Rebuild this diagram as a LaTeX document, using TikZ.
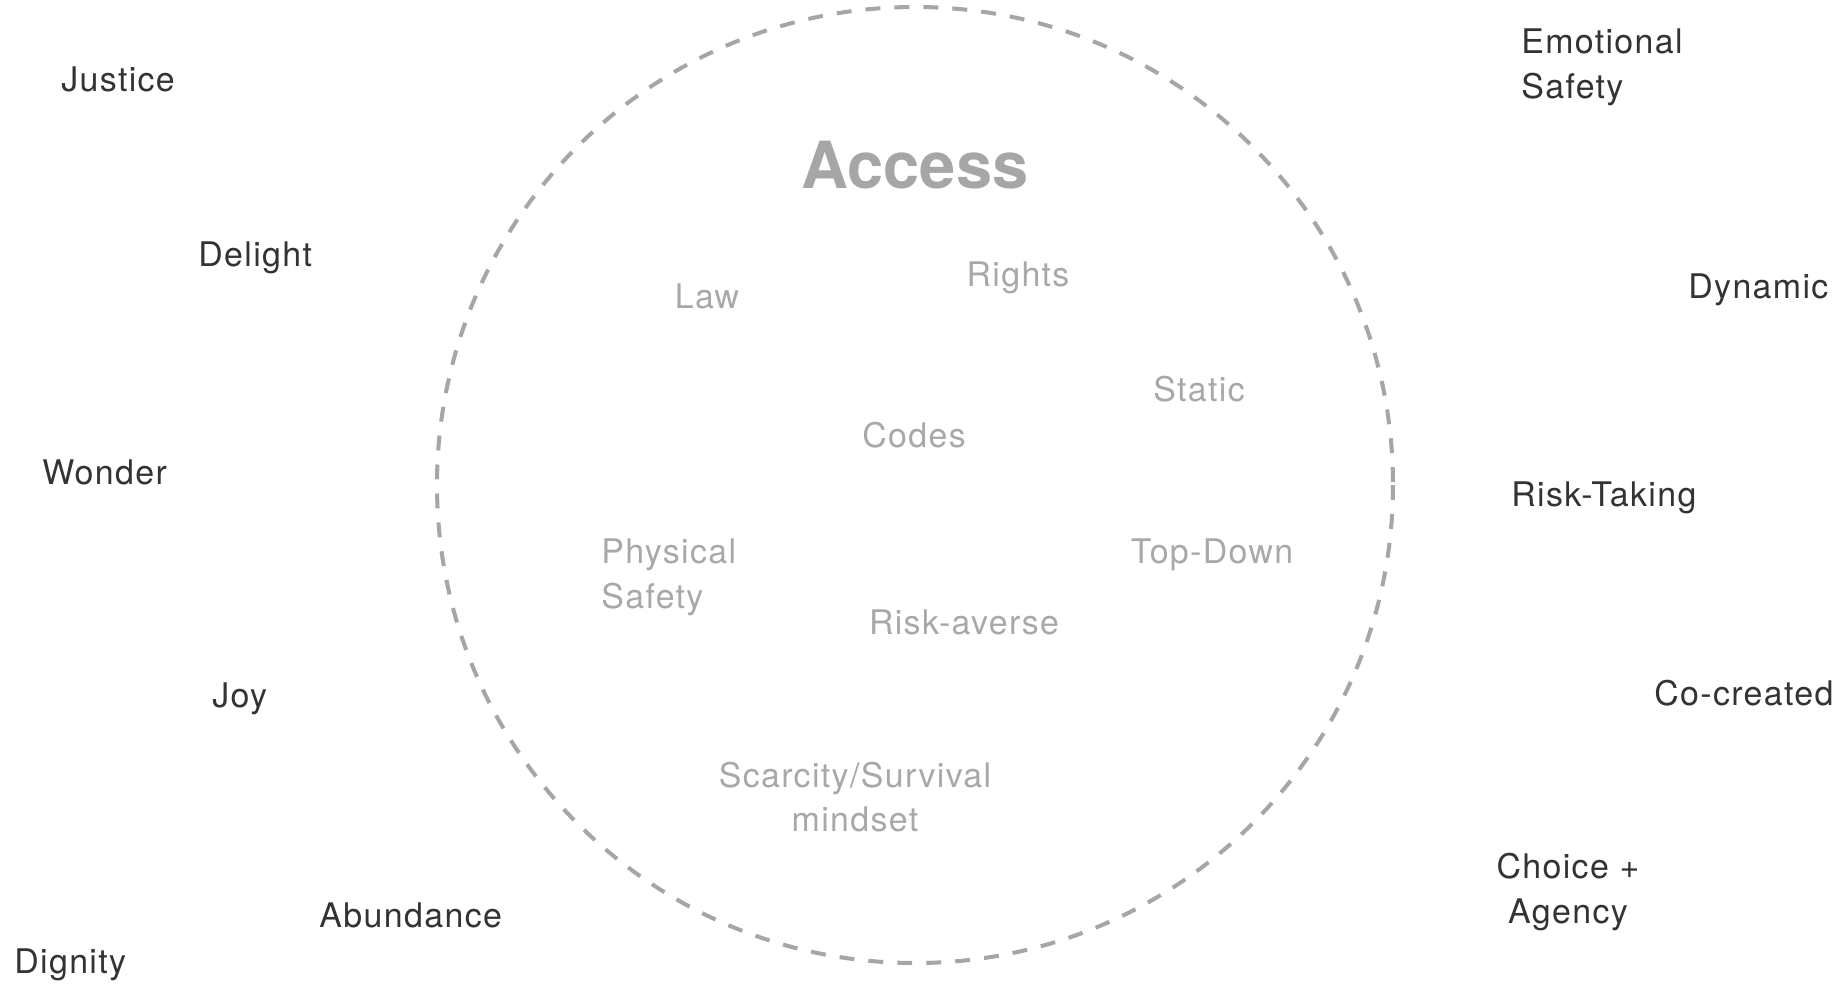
\documentclass[tikz,border=0pt]{standalone}
\usepackage{fontspec}
\setmainfont{TeX Gyre Heros}
\newfontfamily\labelfont[LetterSpace=4]{TeX Gyre Heros}
\definecolor{ringgray}{HTML}{A6A6A6}
\definecolor{innergray}{HTML}{A8A8A8}
\definecolor{outerdark}{HTML}{333333}

\tikzset{
    outer/.style={text=outerdark, font=\labelfont\fontsize{19.3}{25.5}\selectfont, inner sep=0pt},
    inner/.style={text=innergray, font=\labelfont\fontsize{19.3}{25.5}\selectfont, inner sep=0pt},
}

\begin{document}
\begin{tikzpicture}[x=0.02cm, y=-0.02cm]
    \useasboundingbox (0,0) rectangle (1847,985);

    \draw[ringgray, line width=2.3pt, dash pattern=on 8.5pt off 8pt] (915,485) circle (478);

    \node[text=ringgray, font=\fontsize{37}{44}\selectfont\bfseries, inner sep=0pt] (access) at (915,165) {Access};

    % inside the ring
    \node[inner] (law) at (707,296) {Law};
    \node[inner] (rights) at (1018,278) {Rights};
    \node[inner] (static) at (1199,389) {Static};
    \node[inner] (codes) at (914,435) {Codes};
    \node[inner, anchor=west, align=left] (physical) at (601,577) {Physical\\Safety};
    \node[inner] (topdown) at (1212,555) {Top-Down};
    \node[inner] (riskaverse) at (964,622) {Risk-averse};
    \node[inner, align=center] (scarcity) at (855,797) {Scarcity/Survival\\mindset};

    % left side
    \node[outer, anchor=west] (justice) at (61,79) {Justice};
    \node[outer, anchor=west] (delight) at (198,258) {Delight};
    \node[outer, anchor=west] (wonder) at (42,472) {Wonder};
    \node[outer, anchor=west] (joy) at (212,699) {Joy};
    \node[outer, anchor=west] (abundance) at (319,915) {Abundance};
    \node[outer, anchor=west] (dignity) at (14,965) {Dignity};

    % right side
    \node[outer, anchor=west, align=left] (emotional) at (1521,67) {Emotional\\Safety};
    \node[outer, anchor=west] (dynamic) at (1688,290) {Dynamic};
    \node[outer, anchor=west] (risktaking) at (1511,498) {Risk-Taking};
    \node[outer, anchor=west] (cocreated) at (1654,693) {Co-created};
    \node[outer, align=center] (choice) at (1568,892) {Choice +\\Agency};
\end{tikzpicture}
\end{document}
